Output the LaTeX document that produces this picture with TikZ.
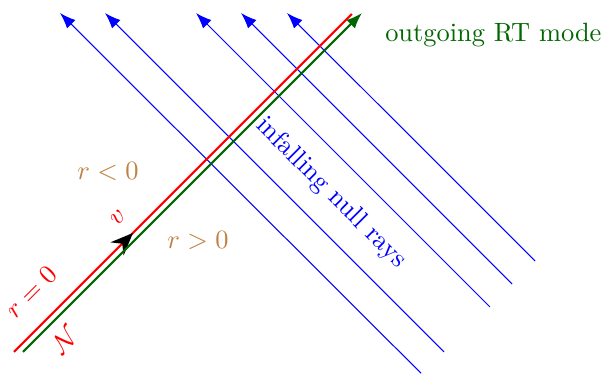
\documentclass[tikz,border=0pt]{standalone}
\usetikzlibrary{arrows.meta,decorations.markings}
\colorlet{rtgreen}{green!40!black}
\colorlet{regbrown}{brown}
\begin{document}
\begin{tikzpicture}[scale=1]
\useasboundingbox (0,0) rectangle (8.02,4.974);
\draw[blue,-{Latex[length=6pt,width=4.5pt]}] (5.60,0.01) -- (0.798,4.801);
\draw[blue,-{Latex[length=6pt,width=4.5pt]}] (5.905,0.293) -- (1.397,4.801);
\draw[blue,-{Latex[length=6pt,width=4.5pt]}] (6.517,0.891) -- (2.607,4.801);
\draw[blue,-{Latex[length=6pt,width=4.5pt]}] (6.81,1.197) -- (3.206,4.801);
\draw[blue,-{Latex[length=6pt,width=4.5pt]}] (7.116,1.503) -- (3.817,4.801);
\draw[thick,red,postaction={decorate},decoration={markings,
  mark=at position 0.352 with {\arrow[black]{Stealth[length=8.5pt,width=7pt]}}}]
  (0.186,0.293) -- (4.681,4.788);
\draw[thick,rtgreen,-{Latex[length=6pt,width=4.5pt]}] (0.306,0.293) -- (4.815,4.802);
\node[rtgreen,anchor=west] at (5.0,4.509) {outgoing RT mode};
\node[blue,rotate=-45] at (4.402,2.407) {infalling null rays};
\node[red,rotate=45] at (0.412,1.091) {$r=0$};
\node[red,rotate=45] at (0.865,0.452) {$\mathcal{N}$};
\node[red,rotate=45] at (1.569,2.075) {$v$};
\node[regbrown] at (1.436,2.687) {$r<0$};
\node[regbrown] at (2.633,1.782) {$r>0$};
\end{tikzpicture}
\end{document}
